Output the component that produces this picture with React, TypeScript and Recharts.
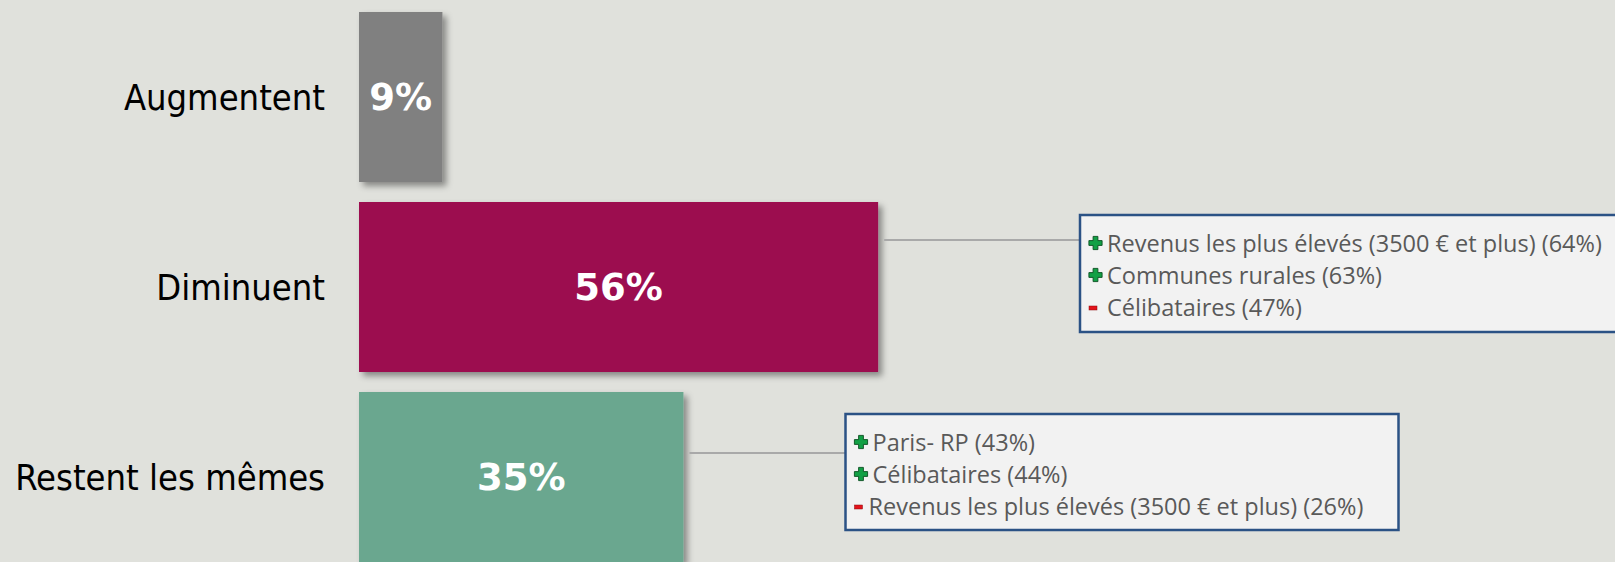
import { BarChart, Bar, XAxis, YAxis, Cell, LabelList } from "recharts";

const categories = ["Augmentent", "Diminuent", "Restent les mêmes"];
const shares = [9, 56, 35];

const calloutSigns = [[], ["+", "+", "-"], ["+", "+", "-"]];
const calloutTexts = [
  [],
  ["Revenus les plus élevés (3500 € et plus) (64%)", "Communes rurales (63%)", "Célibataires (47%)"],
  ["Paris- RP (43%)", "Célibataires (44%)", "Revenus les plus élevés (3500 € et plus) (26%)"],
];

const barColors = ["#808080", "#9C0850", "#6BA78F"];
const BG = "#E0E1DC";

// where the callout boxes sit (annotation layout, not data)
const calloutLayout = [
  null,
  { x: 1080, y: 215, w: 560, h: 117, lineY: 240, minusDx: 27 },
  { x: 845.5, y: 414, w: 553, h: 116, lineY: 453, minusDx: 23 },
];

const data = categories.map((c, i) => ({ category: c, share: shares[i] }));

const Plus = ({ cx, cy }: { cx: number; cy: number }) => (
  <path
    d={`M${cx - 2.4},${cy - 6.6}h4.8v4.2h4.2v4.8h-4.2v4.2h-4.8v-4.2h-4.2v-4.8h4.2z`}
    fill="#12A045"
    stroke="#0A4F20"
    strokeWidth={0.9}
  />
);

const Minus = ({ x, cy }: { x: number; cy: number }) => (
  <rect x={x} y={cy - 1} width={8} height={4} fill="#E3141B" stroke="#8a0a0e" strokeWidth={0.5} />
);

const BarShape = (props: any) => {
  const { x, y, width, height, index, fill } = props;
  const box = calloutLayout[index];
  const fid = `shadow-${index}`;
  return (
    <g>
      <defs>
        <filter id={fid} x="-20%" y="-20%" width="140%" height="140%">
          <feDropShadow dx={4} dy={4} stdDeviation={3} floodColor="#000" floodOpacity={0.4} />
        </filter>
      </defs>
      <rect x={x} y={y} width={width} height={height} fill={fill} filter={`url(#${fid})`} />
      {box && (
        <g>
          <line x1={x + width + 6} x2={box.x} y1={box.lineY} y2={box.lineY} stroke="#A9A9A9" strokeWidth={2} />
          <rect x={box.x} y={box.y} width={box.w} height={box.h} fill="#F2F2F2" stroke="#2B5285" strokeWidth={2.5} />
          {calloutTexts[index].map((t, k) => {
            const cy = box.y + 28 + k * 32;
            const sign = calloutSigns[index][k];
            return (
              <g key={k}>
                {sign === "+" ? <Plus cx={box.x + 15.5} cy={cy} /> : <Minus x={box.x + 9} cy={cy} />}
                <text
                  x={box.x + (sign === "+" ? 27 : box.minusDx)}
                  y={cy}
                  dominantBaseline="central"
                  fill="#595959"
                  fontSize={23.5}
                  fontFamily="'Open Sans', 'Noto Sans', sans-serif"
                >
                  {t}
                </text>
              </g>
            );
          })}
        </g>
      )}
    </g>
  );
};

export default function App() {
  return (
    <div
      style={{
        position: "absolute",
        left: 0,
        top: 0,
        width: 1615,
        height: 562,
        overflow: "hidden",
        background: BG,
      }}
    >
      <BarChart
        width={1615}
        height={572}
        data={data}
        layout="vertical"
        margin={{ top: 2, right: 329, bottom: 0, left: 0 }}
      >
        <XAxis type="number" domain={[0, 100]} hide />
        <YAxis
          type="category"
          dataKey="category"
          width={359}
          axisLine={false}
          tickLine={false}
          tickSize={0}
          tickMargin={34}
          interval={0}
          tick={{
            fill: "#000",
            fontSize: 36,
            fontFamily: "'DejaVu Sans Condensed', 'DejaVu Sans', sans-serif",
          }}
        />
        <Bar dataKey="share" barSize={170} isAnimationActive={false} shape={BarShape}>
          {data.map((d, i) => (
            <Cell key={d.category} fill={barColors[i]} />
          ))}
          <LabelList
            dataKey="share"
            position="center"
            formatter={(v: any) => `${v}%`}
            fill="#fff"
            fontSize={37}
            fontWeight="bold"
            fontFamily="'DejaVu Sans', sans-serif"
          />
        </Bar>
      </BarChart>
    </div>
  );
}
